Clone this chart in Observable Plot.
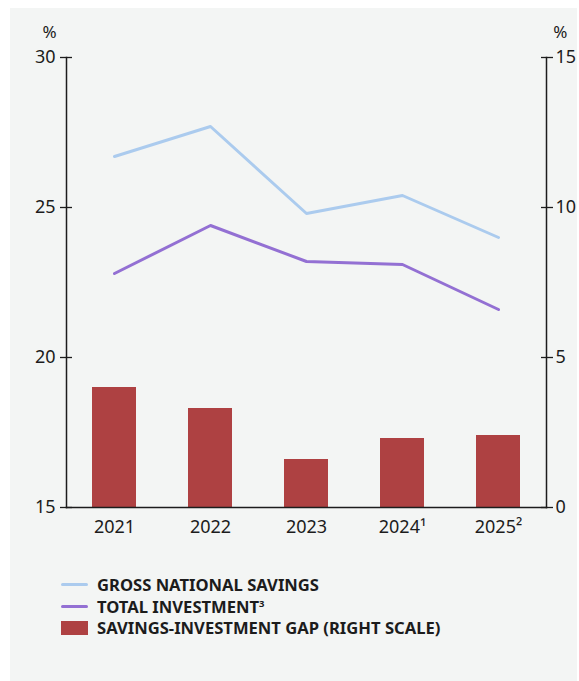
<!DOCTYPE html>
<html>
<head>
<meta charset="utf-8">
<script src="https://cdn.jsdelivr.net/npm/d3@7"></script>
<script src="https://cdn.jsdelivr.net/npm/@observablehq/plot@0.6"></script>
<style>
  html, body { margin: 0; padding: 0; background: #ffffff; }
  #panel { position: absolute; left: 10px; top: 8px; width: 567px; height: 673px; background: #f3f5f4; font-family: "Noto Sans", sans-serif; color: #1c1c1c; }
  #chart svg { display: block; }
  #legend { margin-top: 21px; margin-left: 51px; font-weight: 700; font-size: 16.6px; }
  .row { display: flex; align-items: center; height: 21.5px; }
  .sw { width: 27px; margin-right: 9px; flex: none; }
  .ln { height: 3px; border-radius: 1.5px; }
  .rc { height: 14px; }
  sup { font-size: 9.5px; vertical-align: 6px; line-height: 0; }
</style>
</head>
<body>
<div id="panel">
  <div id="chart"></div>
  <div id="legend"></div>
</div>
<script>
const years = ["2021", "2022", "2023", "2024", "2025"];
const xLabels = ["2021", "2022", "2023", "2024¹", "2025²"];
const savings = [26.7, 27.7, 24.8, 25.4, 24.0];
const investment = [22.8, 24.4, 23.2, 23.1, 21.6];
const gap = [4.0, 3.3, 1.6, 2.3, 2.4];
const leftTicks = [15, 20, 25, 30];
const rightOffset = 15; // right scale 0..15 mapped onto left 15..30

const seriesNames = ["GROSS NATIONAL SAVINGS", "TOTAL INVESTMENT", "SAVINGS-INVESTMENT GAP (RIGHT SCALE)"];
const colors = ["#abcbee", "#9370d3", "#ae4142"];

const rows = years.map((y, i) => ({year: y, label: xLabels[i], savings: savings[i], investment: investment[i], gap: gap[i]}));

const chart = Plot.plot({
  width: 567,
  height: 545,
  marginLeft: 56,
  marginRight: 31,
  marginTop: 49,
  marginBottom: 46,
  style: {background: "transparent", fontFamily: "Noto Sans", fontSize: "18px", color: "#1c1c1c"},
  x: {type: "band", domain: years, paddingInner: 0.54, paddingOuter: 0.27, axis: null, label: null},
  y: {domain: [15, 30], axis: null, label: null},
  marks: [
    Plot.barY(rows, {x: "year", y1: () => rightOffset, y2: d => rightOffset + d.gap, fill: colors[2]}),
    Plot.line(rows, {x: "year", y: "savings", stroke: colors[0], strokeWidth: 3}),
    Plot.line(rows, {x: "year", y: "investment", stroke: colors[1], strokeWidth: 3}),
    Plot.frame({anchor: "left", stroke: "#1c1c1c", strokeWidth: 1.5}),
    Plot.frame({anchor: "right", stroke: "#1c1c1c", strokeWidth: 1.5}),
    Plot.frame({anchor: "bottom", stroke: "#1c1c1c", strokeWidth: 1.5}),
    Plot.axisY({anchor: "left", ticks: leftTicks, tickSize: 12, dx: 6, strokeWidth: 1.3, stroke: "#1c1c1c", tickFormat: () => "", label: null}),
    Plot.axisY({anchor: "left", ticks: leftTicks, tickSize: 0, tickPadding: 11, fill: "#1c1c1c", fontSize: 18, label: null}),
    Plot.axisY({anchor: "right", ticks: leftTicks, tickSize: 12, dx: -6, strokeWidth: 1.3, stroke: "#1c1c1c", tickFormat: () => "", label: null}),
    Plot.axisY({anchor: "right", ticks: leftTicks, tickSize: 0, tickPadding: 9, tickFormat: d => d - rightOffset, fill: "#1c1c1c", fontSize: 18, label: null}),
    Plot.axisX({anchor: "bottom", tickSize: 0, tickPadding: 13, tickFormat: d => xLabels[years.indexOf(d)], fill: "#1c1c1c", fontSize: 18, label: null}),
    Plot.text(["%"], {frameAnchor: "top-left", text: d => d, lineAnchor: "bottom", dx: -24, dy: -20, fill: "#1c1c1c", fontSize: 17}),
    Plot.text(["%"], {frameAnchor: "top-right", text: d => d, lineAnchor: "bottom", dx: 21, dy: -20, fill: "#1c1c1c", fontSize: 17})
  ]
});
document.getElementById("chart").appendChild(chart);

const legend = document.getElementById("legend");
const legendHTML = [
  `<div class="row"><div class="sw ln" style="background:${colors[0]}"></div><span>${seriesNames[0]}</span></div>`,
  `<div class="row"><div class="sw ln" style="background:${colors[1]}"></div><span>${seriesNames[1]}<sup>3</sup></span></div>`,
  `<div class="row"><div class="sw rc" style="background:${colors[2]}"></div><span>${seriesNames[2]}</span></div>`
];
legend.innerHTML = legendHTML.join("");
</script>
</body>
</html>
